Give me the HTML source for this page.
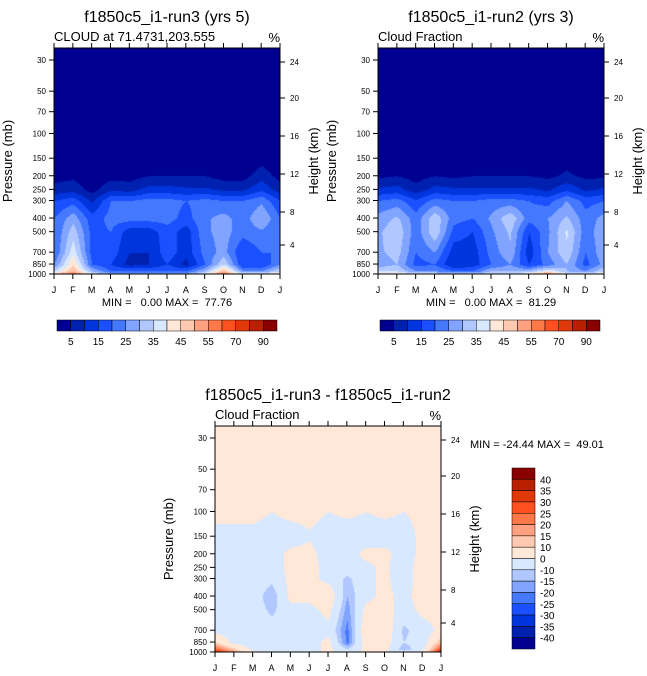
<!DOCTYPE html>
<html><head><meta charset="utf-8">
<style>
body{margin:0;background:#fff;width:647px;height:676px;position:relative;overflow:hidden;font-family:"Liberation Sans",Arial,sans-serif;}
canvas{position:absolute;}
svg{position:absolute;left:0;top:0;}
.pre{white-space:pre;}
</style></head>
<body>
<canvas id="c1" width="226" height="226" style="left:54px;top:48px"></canvas>
<canvas id="c2" width="226" height="226" style="left:378px;top:48px"></canvas>
<canvas id="c3" width="226" height="226" style="left:215px;top:426px"></canvas>
<svg id="s" width="647" height="676"></svg>
<script>
const months = ["J","F","M","A","M","J","J","A","S","O","N","D","J"];
const pressureTicks = [30,50,70,100,150,200,250,300,400,500,700,850,1000];
const heightTicks = [24,20,16,12,8,4];
const rows = [25,100,150,200,250,300,400,500,700,850,950,1000];
const run3 = [
 [0,0,0,0,0,0,0,0,0,0,0,0,0],
 [0,0,0,0,0,0,0,0,0,0,0,0,0],
 [0,0,0,0,0,0,0,0,0,0,0,3,0],
 [3,4,1,3,3,5,5,5,5,3,3,8,3],
 [7,8,3,9,8,12,12,11,11,9,9,14,7],
 [15,18,9,20,20,22,22,20,22,20,20,24,15],
 [20,28,17,22,22,22,22,18,24,27,22,30,20],
 [20,33,18,20,12,12,18,12,24,27,22,24,20],
 [20,38,18,18,10,10,18,12,22,27,15,20,20],
 [25,45,20,15,8,10,15,8,20,35,15,15,25],
 [35,50,30,20,20,20,20,20,30,50,25,25,35],
 [50,60,40,30,30,30,30,30,40,60,40,40,50]];
const run2 = [
 [0,0,0,0,0,0,0,0,0,0,0,0,0],
 [0,0,0,0,0,0,0,0,0,0,0,0,0],
 [1,2,0,2,1,0,1,1,1,0,3,0,1],
 [4,5,3,5,4,5,5,5,5,4,6,4,4],
 [11,12,7,12,11,11,11,11,11,9,14,9,11],
 [20,22,16,22,20,20,22,22,20,18,25,18,20],
 [27,31,22,34,22,20,26,34,22,25,31,22,27],
 [29,34,22,34,18,15,24,31,15,24,36,22,29],
 [29,32,20,25,12,12,22,29,12,25,34,20,29],
 [27,30,18,20,10,12,20,25,15,22,30,18,27],
 [35,35,25,25,20,20,30,30,30,40,30,25,35],
 [45,45,40,40,35,35,40,40,45,60,40,40,45]];
const diff = [
 [3,3,3,3,3,3,3,3,3,3,3,3,3],
 [3,3,3,0,3,3,0,2,0,2,0,3,3],
 [-3,-3,-3,-5,-5,-1,-5,-5,-5,-5,-5,3,3],
 [-3,-5,-5,-5,3,3,-5,-5,3,3,-5,3,3],
 [-3,-5,-5,-5,3,3,-3,-5,-3,3,-10,10,3],
 [-2,-5,-5,-8,3,3,-3,-12,-3,3,-8,8,3],
 [-5,-5,-5,-15,3,3,8,-15,-3,3,-3,5,3],
 [-5,-3,-5,-12,-3,-3,3,-18,3,5,-5,3,3],
 [-3,-5,-5,-5,-8,-5,-3,-22,8,8,-12,-5,3],
 [10,-3,-5,-5,-5,-5,3,-22,6,5,-10,-5,15],
 [25,12,-3,-3,-5,-5,3,-10,3,3,-15,-3,30],
 [35,20,3,-3,-3,-3,3,-5,3,3,-3,3,40]];
const levels = [5,10,15,20,25,30,35,40,45,50,55,60,70,80,90];
const levelLabels = ["5","15","25","35","45","55","70","90"];
const diffLevels = [-40,-35,-30,-25,-20,-15,-10,0,10,15,20,25,30,35,40];
const diffLabels = ["-40","-35","-30","-25","-20","-15","-10","0","10","15","20","25","30","35","40"];
const colors = ["#000090","#0020b0","#0034dd","#1a50ff","#4478ff","#80a4ff","#b0c8ff","#d8e8ff","#ffe8d8","#ffc8b0","#ffa080","#ff7848","#ff5020","#e03808","#b82000","#880000"];

const LOGTOP = Math.log10(30) - 12/140.5, KP = 140.5;
function yOfP(p){ return (Math.log10(p)-LOGTOP)*KP; }
function hexRgb(h){return [parseInt(h.substr(1,2),16),parseInt(h.substr(3,2),16),parseInt(h.substr(5,2),16)];}
const rgb = colors.map(hexRgb);

function fill(id, grid, lv){
  const cv=document.getElementById(id), ctx=cv.getContext('2d');
  const W=226,H=226, img=ctx.createImageData(W,H);
  const ry = rows.map(yOfP);
  for(let y=0;y<H;y++){
    let r=0; while(r<rows.length-2 && ry[r+1]<y) r++;
    let t=(y-ry[r])/(ry[r+1]-ry[r]); t=Math.max(0,Math.min(1,t));
    for(let x=0;x<W;x++){
      const m=x/W*12; let c=Math.min(11,Math.floor(m)); const u=m-c;
      const v0=grid[r][c]*(1-u)+grid[r][c+1]*u, v1=grid[r+1][c]*(1-u)+grid[r+1][c+1]*u;
      const v=v0*(1-t)+v1*t;
      let k=0; while(k<lv.length && v>=lv[k]) k++;
      const col=rgb[k], i=(y*W+x)*4;
      img.data[i]=col[0];img.data[i+1]=col[1];img.data[i+2]=col[2];img.data[i+3]=255;
    }
  }
  ctx.putImageData(img,0,0);
}
fill('c1',run3,levels); fill('c2',run2,levels); fill('c3',diff,diffLevels);

const svg=document.getElementById('s'), NS="http://www.w3.org/2000/svg";
function el(tag,attrs,txt){const e=document.createElementNS(NS,tag);for(const k in attrs)e.setAttribute(k,attrs[k]);if(txt!==undefined)e.textContent=txt;svg.appendChild(e);return e;}
const hOff=[14,50,88,126,164,197];

function axes(X,Y,prefix,title,sub,minmax,tx){
  const t=el('text',{x:tx,y:Y-26,'font-size':16,'text-anchor':'middle'},title);
  
  const s=el('text',{x:X,y:Y-7,'font-size':13},sub);
  
  const pc=el('text',{x:X+226,y:Y-6,'font-size':13,'text-anchor':'end'},'%');
  
  const b=el('rect',{x:X,y:Y,width:226,height:226,fill:'none',stroke:'#000','stroke-width':1});
  
  months.forEach((m,i)=>{
    const x=X+i*226/12;
    el('line',{x1:x,x2:x,y1:Y+226,y2:Y+231,stroke:'#000'});
    el('line',{x1:x,x2:x,y1:Y,y2:Y-5,stroke:'#000'});
    const l=el('text',{x:x,y:Y+245,'font-size':9,'text-anchor':'middle'},m);
    
  });
  pressureTicks.forEach(p=>{
    const y=Y+yOfP(p);
    el('line',{x1:X-5,x2:X,y1:y,y2:y,stroke:'#000'});
    const l=el('text',{x:X-8,y:y+3,'font-size':8,'text-anchor':'end'},String(p));
    
  });
  heightTicks.forEach((h,i)=>{
    const y=Y+hOff[i];
    el('line',{x1:X+226,x2:X+231,y1:y,y2:y,stroke:'#000'});
    const l=el('text',{x:X+236,y:y+3,'font-size':8},String(h));
    
  });
  const py=el('text',{x:0,y:0,'font-size':13,'text-anchor':'middle',transform:`translate(${X-42},${Y+113}) rotate(-90)`},'Pressure (mb)');
  
  const hy=el('text',{x:0,y:0,'font-size':13,'text-anchor':'middle',transform:`translate(${X+264},${Y+113}) rotate(-90)`},'Height (km)');
  
  if(minmax){
    const mm=el('text',{x:X+113,y:Y+258,'font-size':11,'text-anchor':'middle','class':'pre'},minmax);
    
  }
}
axes(54,48,'run3','f1850c5_i1-run3 (yrs 5)','CLOUD at 71.4731,203.555','MIN =   0.00 MAX =  77.76',167);
axes(378,48,'run2','f1850c5_i1-run2 (yrs 3)','Cloud Fraction','MIN =   0.00 MAX =  81.29',491);
axes(215,426,'diff','f1850c5_i1-run3 - f1850c5_i1-run2','Cloud Fraction',null,328);
const dm=el('text',{x:470,y:448,'font-size':11,'class':'pre'},'MIN = -24.44 MAX =  49.01');


function hbar(X,prefix){
  const w=220/16;
  colors.forEach((c,i)=>{
    const r=el('rect',{x:X+i*w,y:320,width:w,height:11,fill:c,stroke:'#000','stroke-width':0.5});
    
  });
  levelLabels.forEach((l,i)=>{
    const t=el('text',{x:X+(2*i+1)*w,y:345,'font-size':10,'text-anchor':'middle'},l);
    
  });
}
hbar(57,'run3'); hbar(380,'run2');
const bh=181/16;
colors.slice().reverse().forEach((c,i)=>{
  const r=el('rect',{x:512,y:468+i*bh,width:23,height:bh,fill:c,stroke:'#000','stroke-width':0.5});
  
});
diffLabels.slice().reverse().forEach((l,i)=>{
  const t=el('text',{x:540,y:468+(i+1)*bh+4,'font-size':10},l);
  
});
</script>
</body></html>
